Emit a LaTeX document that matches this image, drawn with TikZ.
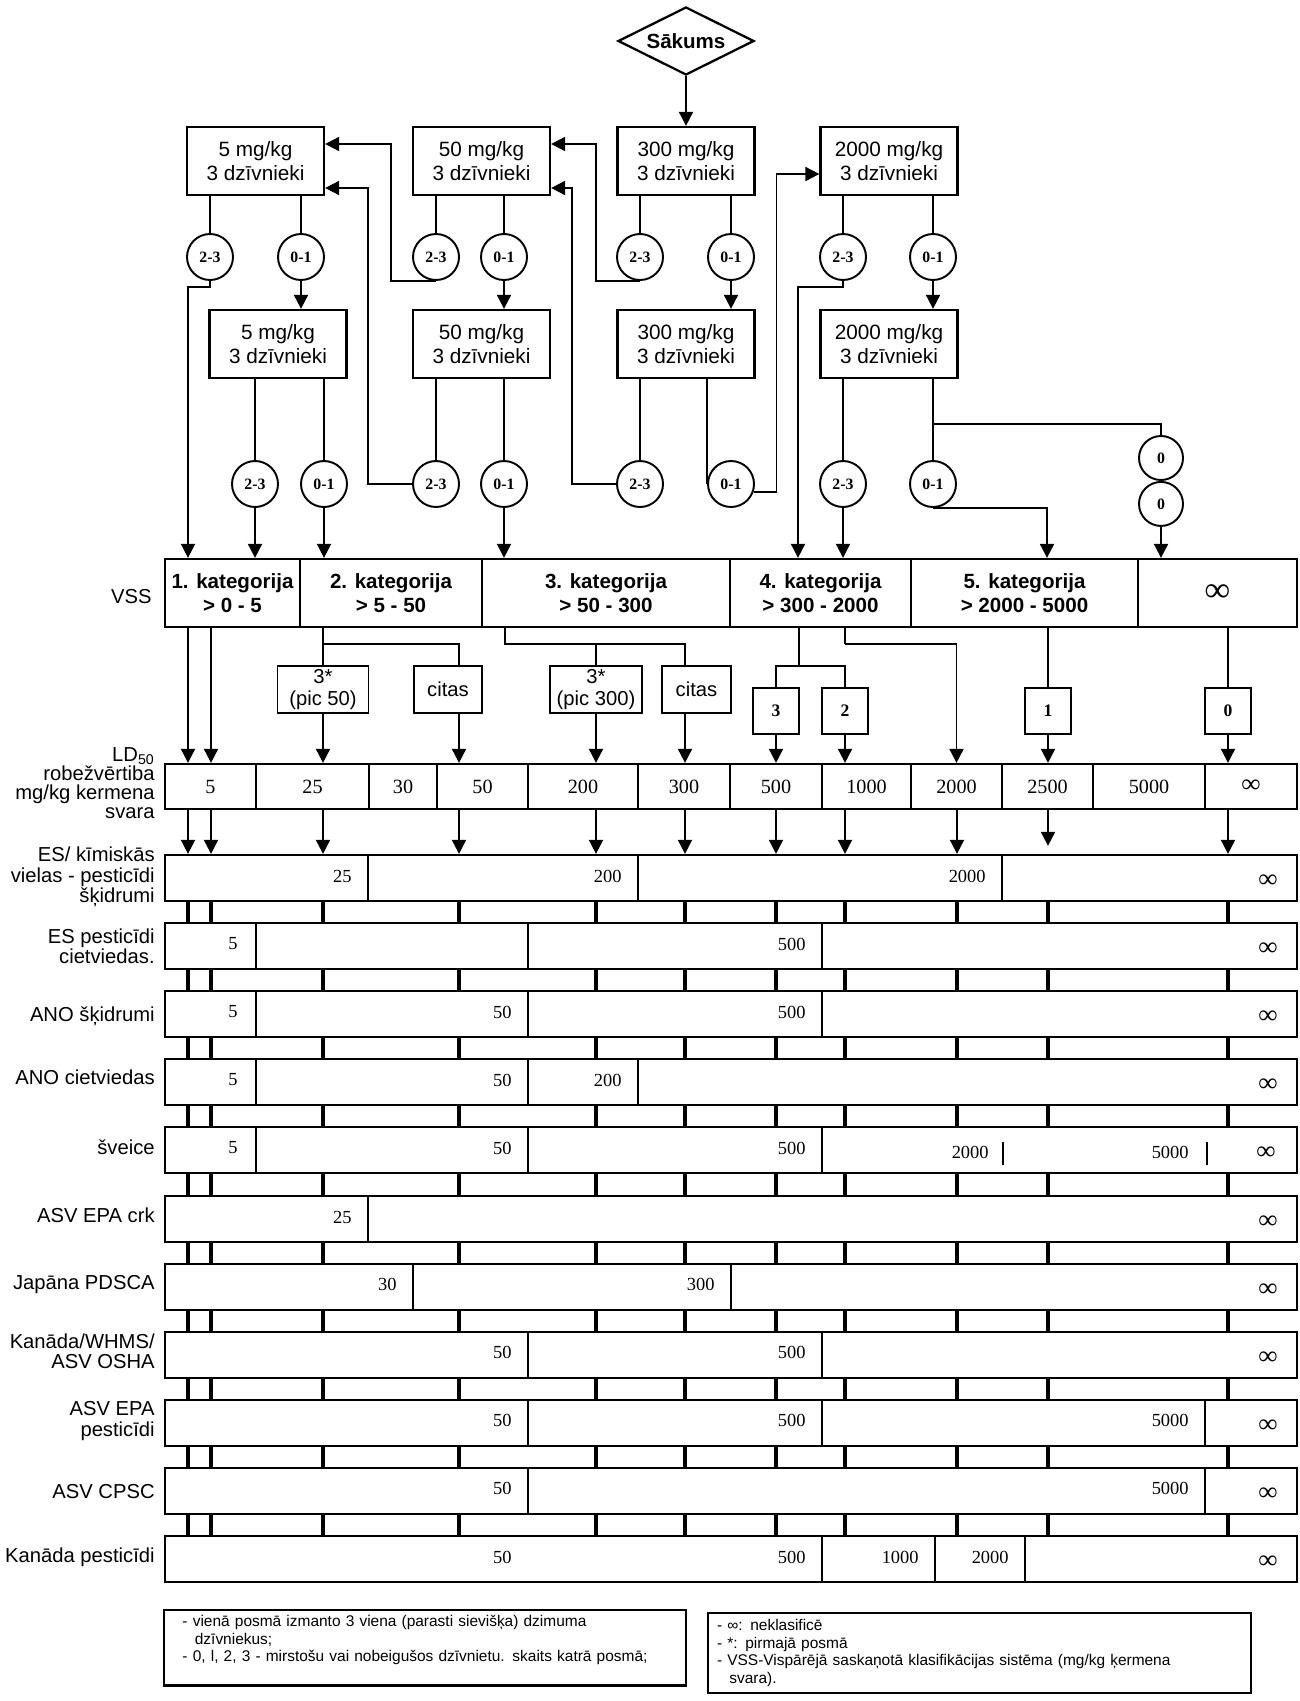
\documentclass[tikz,border=0pt]{standalone}
\usepackage{fontspec}
\setmainfont{Liberation Sans}
\newfontfamily\numfont{Liberation Serif}
\usetikzlibrary{arrows.meta,positioning,shapes.geometric}
\tikzset{
  startbox/.style={draw, diamond, aspect=2, line width=1.3pt, minimum width=27.2mm, minimum height=13.6mm, inner sep=1pt, font=\bfseries\fontsize{11.7}{14}\selectfont},
  dose/.style={draw, line width=1.3pt, minimum width=27.4mm, minimum height=13.6mm, inner sep=1pt, align=center, font=\fontsize{11.8}{14}\selectfont},
  outc/.style={draw, circle, line width=1.1pt, minimum size=9.2mm, inner sep=0pt, font=\numfont\bfseries\fontsize{9}{10}\selectfont},
  zero/.style={outc, minimum size=8.8mm},
  catcell/.style={draw, line width=1.3pt, minimum height=13.6mm, inner sep=0pt, align=center, font=\bfseries\fontsize{11.7}{13.6}\selectfont},
  ldcell/.style={draw, line width=1.3pt, minimum height=9mm, inner sep=0pt, font=\numfont\fontsize{11.5}{12}\selectfont},
  subbox/.style={draw, line width=1.1pt, minimum height=9.4mm, inner sep=0pt, align=center, font=\fontsize{11.5}{12}\selectfont},
  dbox/.style={draw, line width=1.1pt, minimum size=9.2mm, inner sep=0pt, font=\numfont\bfseries\fontsize{10}{10}\selectfont},
  bar/.style={draw, line width=1.3pt, minimum width=226.4mm, minimum height=9.2mm, inner sep=0pt},
  divl/.style={line width=0.8pt},
  num/.style={anchor=east, inner sep=0pt, font=\numfont\fontsize{10.5}{11}\selectfont},
  inf/.style={inner sep=0pt, font=\numfont\bfseries\fontsize{15}{15}\selectfont},
  rowlabel/.style={anchor=east, align=right, inner sep=0pt, font=\fontsize{11.5}{11.6}\selectfont},
  conn/.style={line width=1.1pt},
  arr/.style={conn, -{Triangle[length=2.8mm,width=2.8mm]}},
  stub/.style={line width=2.4pt},
  note/.style={draw, line width=1.3pt, align=left, font=\fontsize{8.8}{10}\selectfont}
}
\begin{document}
\begin{tikzpicture}[x=0.2mm, y=-0.2mm]
\useasboundingbox (0,0) rectangle (1299,1701);

% dose steps
\node[startbox] (start) at (686,41) {Sākums};
\node[dose] (b5a) at (255.5,161) {5 mg/kg\\3 dzīvnieki};
\node[dose] (b50a) at (481.5,161) {50 mg/kg\\3 dzīvnieki};
\node[dose] (b300a) at (686,161) {300 mg/kg\\3 dzīvnieki};
\node[dose] (b2000a) at (889,161) {2000 mg/kg\\3 dzīvnieki};
\node[dose] (b5b) at (278,344) {5 mg/kg\\3 dzīvnieki};
\node[dose] (b50b) at (481.5,344) {50 mg/kg\\3 dzīvnieki};
\node[dose] (b300b) at (686,344) {300 mg/kg\\3 dzīvnieki};
\node[dose] (b2000b) at (889,344) {2000 mg/kg\\3 dzīvnieki};

\node[outc] (o5a23) at (210,257) {2-3};
\node[outc] (o5a01) at (301,257) {0-1};
\node[outc] (o50a23) at (436,257) {2-3};
\node[outc] (o50a01) at (504,257) {0-1};
\node[outc] (o300a23) at (640,257) {2-3};
\node[outc] (o300a01) at (731,257) {0-1};
\node[outc] (o2000a23) at (843,257) {2-3};
\node[outc] (o2000a01) at (933,257) {0-1};
\node[outc] (o5b23) at (255,484) {2-3};
\node[outc] (o5b01) at (324,484) {0-1};
\node[outc] (o50b23) at (436,484) {2-3};
\node[outc] (o50b01) at (504,484) {0-1};
\node[outc] (o300b23) at (640,484) {2-3};
\node[outc] (o300b01) at (731,484) {0-1};
\node[outc] (o2000b23) at (843,484) {2-3};
\node[outc] (o2000b01) at (933,484) {0-1};
\node[zero] (z1) at (1161,458) {0};
\node[zero, below=0pt of z1] (z2) {0};

% VSS categories
\node[rowlabel] (lvss) at (152,597) {VSS};
\node[catcell, minimum width=27mm] (cat1) at (232.5,593) {1. kategorija\\> 0 - 5};
\node[catcell, minimum width=36.4mm] (cat2) at (391,593) {2. kategorija\\> 5 - 50};
\node[catcell, minimum width=49.6mm] (cat3) at (606,593) {3. kategorija\\> 50 - 300};
\node[catcell, minimum width=36.2mm] (cat4) at (820.5,593) {4. kategorija\\> 300 - 2000};
\node[catcell, minimum width=45.4mm] (cat5) at (1024.5,593) {5. kategorija\\> 2000 - 5000};
\node[catcell, minimum width=31.8mm, font=\numfont\bfseries\fontsize{20}{20}\selectfont] (cat6) at (1217.5,593) {∞};

\node[subbox, minimum width=18.2mm] (p50) at (323,689.5) {3*\\(pic 50)};
\node[subbox, minimum width=13.6mm] (citas1) at (448,689.5) {citas};
\node[subbox, minimum width=18.4mm] (p300) at (596,689.5) {3*\\(pic 300)};
\node[subbox, minimum width=13.8mm] (citas2) at (696.5,689.5) {citas};
\node[dbox] (n3) at (776,711) {3};
\node[dbox] (n2) at (845,711) {2};
\node[dbox] (n1) at (1048,711) {1};
\node[dbox] (n0) at (1228,711) {0};

% LD50 cut-offs
\node[rowlabel, font=\fontsize{11.5}{10.8}\selectfont] (lld) at (155,783) {LD\textsubscript{50}\\robežvērtiba\\mg/kg kermena\\svara};
\foreach \i/\xa/\xb/\t in {1/165/256/5, 2/256/369/25, 3/369/437/30, 4/437/528/50, 5/528/638/200, 6/638/730/300, 7/730/822/500, 8/822/911/1000, 9/911/1002/2000, 10/1002/1093/2500, 11/1093/1205/5000, 12/1205/1297/{\fontsize{15}{15}\selectfont\bfseries ∞}}
  \node[ldcell, minimum width={(\xb-\xa)*0.2mm}] (ld\i) at ({(\xa+\xb)/2},786.5) {\t};

\foreach \n/\x in {1/188, 2/211, 3/323, 4/459, 5/596, 6/685, 7/776, 8/845, 9/957, 10/1048, 11/1228}
  \coordinate (k\n) at (\x,0);
\coordinate (v5) at (798,0);
\coordinate (v7) at (1047,0);
\coordinate (j1) at (323,644);
\coordinate (j2) at (505,644);
\coordinate (j3) at (799,666);
\coordinate (j4) at (845,644);

% national systems
\node[rowlabel] (l1) at (155,877) {ES/ kīmiskās\\vielas - pesticīdi\\šķidrumi};
\node[bar] (r1) at (731,878) {};
\foreach \x in {368,638,1002} \draw[divl] (\x,855) -- ++(0,46);
\node[num] at (352,876) {25};
\node[num] at (622,876) {200};
\node[num] at (986,876) {2000};
\node[inf] at (1268,881) {∞};

\node[rowlabel] (l2) at (155,946) {ES pesticīdi\\cietviedas.};
\node[bar] (r2) at (731,946) {};
\foreach \x in {256,528,822} \draw[divl] (\x,923) -- ++(0,46);
\node[num] at (238,944) {5};
\node[num] at (806,944) {500};
\node[inf] at (1268,949) {∞};

\node[rowlabel] (l3) at (155,1016) {ANO šķidrumi};
\node[bar] (r3) at (731,1014) {};
\foreach \x in {256,528,822} \draw[divl] (\x,991) -- ++(0,46);
\node[num] at (238,1012) {5};
\node[num] at (512,1012) {50};
\node[num] at (806,1012) {500};
\node[inf] at (1268,1017) {∞};

\node[rowlabel] (l4) at (155,1077) {ANO cietviedas};
\node[bar] (r4) at (731,1082) {};
\foreach \x in {256,528,638} \draw[divl] (\x,1059) -- ++(0,46);
\node[num] at (238,1080) {5};
\node[num] at (512,1080) {50};
\node[num] at (622,1080) {200};
\node[inf] at (1268,1085) {∞};

\node[rowlabel] (l5) at (155,1147) {šveice};
\node[bar] (r5) at (731,1150) {};
\foreach \x in {256,528,822} \draw[divl] (\x,1127) -- ++(0,46);
\foreach \x in {1003,1207} \draw[conn] (\x,1142) -- ++(0,23);
\node[num] at (238,1148) {5};
\node[num] at (512,1148) {50};
\node[num] at (806,1148) {500};
\node[num] at (989,1152) {2000};
\node[num] at (1189,1152) {5000};
\node[inf] at (1266,1153) {∞};

\node[rowlabel] (l6) at (155,1215) {ASV EPA crk};
\node[bar] (r6) at (731,1219) {};
\draw[divl] (368,1196) -- ++(0,46);
\node[num] at (352,1217) {25};
\node[inf] at (1268,1222) {∞};

\node[rowlabel] (l7) at (155,1285) {Japāna PDSCA};
\node[bar] (r7) at (731,1287) {};
\foreach \x in {413,731} \draw[divl] (\x,1264) -- ++(0,46);
\node[num] at (397,1284) {30};
\node[num] at (715,1284) {300};
\node[inf] at (1268,1290) {∞};

\node[rowlabel] (l8) at (155,1351) {Kanāda/WHMS/\\ASV OSHA};
\node[bar] (r8) at (731,1355) {};
\foreach \x in {528,822} \draw[divl] (\x,1332) -- ++(0,46);
\node[num] at (512,1352) {50};
\node[num] at (806,1352) {500};
\node[inf] at (1268,1358) {∞};

\node[rowlabel] (l9) at (155,1421) {ASV EPA\\pesticīdi};
\node[bar] (r9) at (731,1423) {};
\foreach \x in {528,822,1205} \draw[divl] (\x,1400) -- ++(0,46);
\node[num] at (512,1420) {50};
\node[num] at (806,1420) {500};
\node[num] at (1189,1420) {5000};
\node[inf] at (1268,1426) {∞};

\node[rowlabel] (l10) at (155,1492) {ASV CPSC};
\node[bar] (r10) at (731,1491) {};
\foreach \x in {528,1205} \draw[divl] (\x,1468) -- ++(0,46);
\node[num] at (512,1488) {50};
\node[num] at (1189,1488) {5000};
\node[inf] at (1268,1494) {∞};

\node[rowlabel] (l11) at (155,1557) {Kanāda pesticīdi};
\node[bar] (r11) at (731,1559) {};
\foreach \x in {822,935,1025} \draw[divl] (\x,1536) -- ++(0,46);
\node[num] at (512,1557) {50};
\node[num] at (806,1557) {500};
\node[num] at (919,1557) {1000};
\node[num] at (1009,1557) {2000};
\node[inf] at (1268,1562) {∞};

% legend
\node[note, minimum width=104.4mm, minimum height=13.8mm, text width=97mm, inner xsep=3.7mm] (note1) at (425,1647.5)
  {- vienā posmā izmanto 3 viena (parasti sievišķa) dzimuma\\\hspace*{0.8em}dzīvniekus;\\- 0, l, 2, 3 - mirstošu vai nobeigušos dzīvnietu. skaits katrā posmā;\\\mbox{}};
\node[note, minimum width=108.6mm, minimum height=16mm, text width=105mm, inner xsep=1.8mm] (note2) at (979.5,1653)
  {- ∞: neklasificē\\- *: pirmajā posmā\\- VSS-Vispārējā saskaņotā klasifikācijas sistēma (mg/kg ķermena\\\hspace*{0.8em}svara).};

% test sequence
\draw[arr] (start) -- (b300a);
\foreach \b/\o in {b5a/o5a23, b5a/o5a01, b50a/o50a23, b50a/o50a01, b300a/o300a23, b300a/o300a01, b2000a/o2000a23, b2000a/o2000a01, b5b/o5b23, b5b/o5b01, b50b/o50b23, b50b/o50b01, b300b/o300b23, b2000b/o2000b23, b2000b/o2000b01}
  \draw[conn] (\o |- \b.south) -- (\o);
\draw[conn] (o300b01.west |- b300b.south) -- (o300b01.west);
\draw[arr] (o5a01) -- (o5a01 |- b5b.north);
\draw[arr] (o50a01) -- (o50a01 |- b50b.north);
\draw[arr] (o300a01) -- (o300a01 |- b300b.north);
\draw[arr] (o2000a01) -- (o2000a01 |- b2000b.north);
\draw[arr] (o50a23.south) -- ++(-45,0) |- ([yshift=3.4mm]b5a.east);
\draw[arr] (o50b23.west) -- ++(-44,0) |- ([yshift=-5.4mm]b5a.east);
\draw[arr] (o300a23.south) -- ++(-44,0) |- ([yshift=3.4mm]b50a.east);
\draw[arr] (o300b23.west) -- ++(-44,0) |- ([yshift=-5.4mm]b50a.east);
\draw[arr] (o300b01.-20) -- ++(23,0) |- ([yshift=-2.6mm]b2000a.west);

% into the categories
\draw[arr] (o5a23.south) -- ++(0,6) -| (k1 |- cat1.north);
\draw[arr] (o5b23) -- (o5b23 |- cat1.north);
\draw[arr] (o5b01) -- (o5b01 |- cat2.north);
\draw[arr] (o50b01) -- (o50b01 |- cat3.north);
\draw[arr] (o2000a23.south) -- ++(0,6) -| (v5 |- cat4.north);
\draw[arr] (o2000b23) -- (o2000b23 |- cat4.north);
\draw[arr] (o2000b01.south) -| (v7 |- cat5.north);
\draw[conn] (o2000b01 |- b2000b.south) ++(0,45) coordinate (fork) -| (z1);
\draw[arr] (z2) -- (z2 |- cat6.north);

% categories to LD50
\draw[arr] (k1 |- cat1.south) -- (k1 |- ld1.north);
\draw[arr] (k2 |- cat1.south) -- (k2 |- ld1.north);
\draw[conn] (cat2.south -| p50) -- (p50);
\draw[conn] (j1) -| (k4 |- citas1.north);
\draw[conn] (cat3.south -| j2) -- (j2) -| (k6 |- citas2.north);
\draw[conn] (j2 -| p300) -- (p300);
\draw[conn] (cat4.south -| j3) -- (j3);
\draw[conn] (n3) |- (j3) -| (n2);
\draw[conn] (cat4.south -| j4) -- (j4);
\draw[arr] (j4) -| (ld9);
\draw[conn] (cat5.south -| n1) -- (n1);
\draw[conn] (cat6.south -| n0) -- (n0);
\draw[arr] (p50) -- (p50 |- ld2.north);
\draw[arr] (k4 |- citas1.south) -- (k4 |- ld4.north);
\draw[arr] (p300) -- (p300 |- ld5.north);
\draw[arr] (k6 |- citas2.south) -- (k6 |- ld6.north);
\draw[arr] (n3) -- (n3 |- ld7.north);
\draw[arr] (n2) -- (n2 |- ld8.north);
\draw[arr] (n1) -- (n1 |- ld10.north);
\draw[arr] (n0) -- (n0 |- ld12.north);

% LD50 to the first system, stubs between the rest
\foreach \n in {1,...,9,11}
  \draw[arr] (k\n |- ld1.south) -- (k\n |- r1.north);
\draw[arr, shorten >=1.6mm] (k10 |- ld1.south) -- (k10 |- r1.north);
\foreach \a/\b in {r1/r2, r2/r3, r3/r4, r4/r5, r5/r6, r6/r7, r7/r8, r8/r9, r9/r10, r10/r11}
  \foreach \n in {1,...,11}
    \draw[stub] (k\n |- \a.south) -- (k\n |- \b.north);
\end{tikzpicture}
\end{document}
